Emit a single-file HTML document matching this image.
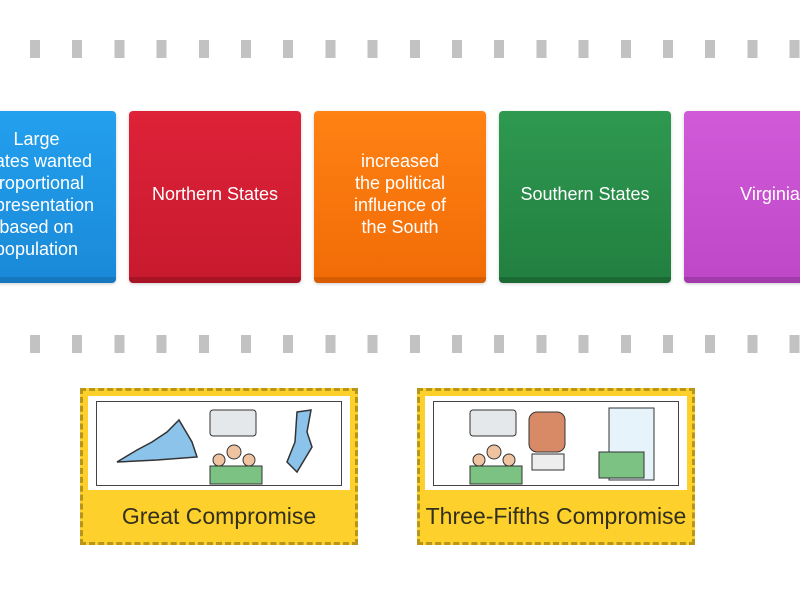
<!DOCTYPE html>
<html><head><meta charset="utf-8"><style>
body{margin:0;width:800px;height:600px;background:#fff;position:relative;overflow:hidden;font-family:"Liberation Sans",sans-serif}
.dash{position:absolute;left:30px;width:780px;height:18px;background:repeating-linear-gradient(to right,#c2c2c2 0 10px,transparent 10px 42.2px)}
.card{position:absolute;top:111px;width:172px;height:172px;border-radius:4px;color:#fff;font-size:18px;line-height:22px;display:flex;align-items:center;justify-content:center;text-align:center;box-sizing:border-box;box-shadow:0 1px 3px rgba(0,0,0,.2)}
.y{position:absolute;top:388px;width:278px;height:157px;background:#fdd02b;border:3px dashed #b8961a;box-sizing:border-box}
.w{position:absolute;left:5px;top:5px;right:5px;height:94px;background:#fff}
.i{position:absolute;left:8px;top:5px;right:8px;bottom:4px;border:1px solid #444}
.lbl{position:absolute;left:-10px;right:-10px;top:112px;text-align:center;font-size:23px;color:#33301e}
</style></head><body>
<div class="dash" style="top:40px"></div>
<div class="dash" style="top:335px"></div>
<div class="card" style="left:-56px;background:linear-gradient(#23a0ee,#1a8ad8);border-bottom:6px solid #1778c0;justify-content:flex-end;padding-right:22px;text-align:center">Large<br>states wanted<br>proportional<br>representation<br>based on<br>population</div>
<div class="card" style="left:129px;background:linear-gradient(#de2238,#c81a2e);border-bottom:6px solid #a81426">Northern States</div>
<div class="card" style="left:314px;background:linear-gradient(#ff8214,#f26c06);border-bottom:6px solid #d85c02">increased<br>the political<br>influence of<br>the South</div>
<div class="card" style="left:499px;background:linear-gradient(#2e9950,#228040);border-bottom:6px solid #1b6a34">Southern States</div>
<div class="card" style="left:684px;width:172px;background:linear-gradient(#d05ad8,#be48c8);border-bottom:6px solid #a23aab">Virginia</div>
<div class="y" style="left:80px"><div class="w"><div class="i">
<svg width="243" height="84" viewBox="0 0 243 84">
<path d="M20 60 L40 48 L55 40 L70 30 L82 18 L95 40 L100 55 L60 58 Z" fill="#8cc3ea" stroke="#333" stroke-width="1.5"/>
<rect x="113" y="8" width="46" height="26" rx="3" fill="#e5e8ea" stroke="#333"/>
<circle cx="122" cy="58" r="6" fill="#f0c3a0" stroke="#333"/><circle cx="137" cy="50" r="7" fill="#f0c3a0" stroke="#333"/><circle cx="152" cy="58" r="6" fill="#f0c3a0" stroke="#333"/>
<rect x="113" y="64" width="52" height="18" fill="#7cc383" stroke="#333"/>
<path d="M200 10 L214 8 L210 30 L215 45 L200 70 L190 60 L198 40 Z" fill="#8cc3ea" stroke="#333" stroke-width="1.5"/>
</svg></div></div><div class="lbl">Great Compromise</div></div>
<div class="y" style="left:417px"><div class="w"><div class="i">
<svg width="243" height="84" viewBox="0 0 243 84">
<rect x="36" y="8" width="46" height="26" rx="3" fill="#e5e8ea" stroke="#333"/>
<circle cx="45" cy="58" r="6" fill="#f0c3a0" stroke="#333"/><circle cx="60" cy="50" r="7" fill="#f0c3a0" stroke="#333"/><circle cx="75" cy="58" r="6" fill="#f0c3a0" stroke="#333"/>
<rect x="36" y="64" width="52" height="18" fill="#7cc383" stroke="#333"/>
<rect x="95" y="10" width="36" height="40" rx="8" fill="#d88a66" stroke="#333"/>
<rect x="98" y="52" width="32" height="16" fill="#eee" stroke="#333"/>
<rect x="175" y="6" width="45" height="72" fill="#e6f3fa" stroke="#333"/>
<rect x="165" y="50" width="45" height="26" fill="#7cc383" stroke="#333"/>
</svg></div></div><div class="lbl">Three-Fifths Compromise</div></div>
</body></html>
